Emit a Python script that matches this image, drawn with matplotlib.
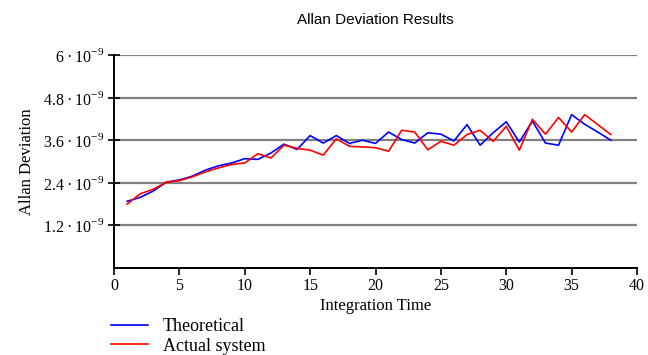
import numpy as np
import matplotlib
matplotlib.use('Agg')
import matplotlib.pyplot as plt

# integration time and deviation values (units of 1e-9)
t = np.arange(1, 39)
theoretical = [1.88, 1.99, 2.17, 2.42, 2.48, 2.59, 2.76, 2.88, 2.96, 3.08,
               3.06, 3.24, 3.49, 3.34, 3.73, 3.52, 3.73, 3.51, 3.60, 3.51,
               3.83, 3.62, 3.52, 3.81, 3.77, 3.58, 4.04, 3.46, 3.81, 4.12,
               3.55, 4.14, 3.52, 3.46, 4.32, 4.05, 3.83, 3.60]
actual = [1.80, 2.09, 2.22, 2.42, 2.46, 2.57, 2.71, 2.82, 2.92, 2.96,
          3.22, 3.10, 3.46, 3.37, 3.32, 3.18, 3.64, 3.43, 3.41, 3.39,
          3.29, 3.88, 3.83, 3.33, 3.57, 3.46, 3.76, 3.88, 3.57, 3.99,
          3.32, 4.19, 3.77, 4.24, 3.83, 4.32, 4.04, 3.76]
yticks = [1.2, 2.4, 3.6, 4.8, 6]
xticks = [0, 5, 10, 15, 20, 25, 30, 35, 40]

plt.rcParams['font.family'] = 'Liberation Serif'
plt.rcParams['mathtext.fontset'] = 'custom'
plt.rcParams['mathtext.rm'] = 'Liberation Serif'

fig = plt.figure(figsize=(6.48, 3.55), dpi=100)
ax = fig.add_axes([0.176, 0.245, 0.807, 0.60])

for v in yticks:
    ax.axhline(v, color='#808080', lw=1.6, zorder=1)

ax.plot(t, theoretical, color='#0000ff', lw=1.2, label='Theoretical', zorder=3)
ax.plot(t, actual, color='#ff0000', lw=1.2, label='Actual system', zorder=3)

ax.set_xlim(0, 40)
ax.set_ylim(0, 6)
ax.set_xticks(xticks)
ax.set_xticklabels([str(x) for x in xticks], fontsize=11.5)
ax.set_yticks(yticks)
ax.set_yticklabels(['%g\u2009\u00b7\u200910$^{\\mathregular{\u22129}}$' % v for v in yticks],
                   fontsize=11.5)
ax.tick_params(axis='x', direction='out', length=5, width=1.2, pad=2)
ax.tick_params(axis='y', direction='inout', length=8, width=1.2, pad=3)

for s in ['top', 'right']:
    ax.spines[s].set_visible(False)
for s in ['left', 'bottom']:
    ax.spines[s].set_linewidth(1.4)

ax.set_xlabel('Integration Time', fontsize=12, labelpad=3)
ax.set_ylabel('Allan Deviation', fontsize=12, labelpad=6)
ax.set_title('Allan Deviation Results', fontfamily='Liberation Sans', fontsize=11, pad=22)

fig.legend(loc='upper left', bbox_to_anchor=(0.172, 0.104), frameon=False,
           prop={'size': 13}, handlelength=2.0,
           handletextpad=0.85, labelspacing=0.15, borderaxespad=0, borderpad=0)

fig.savefig('out.png', dpi=100)
